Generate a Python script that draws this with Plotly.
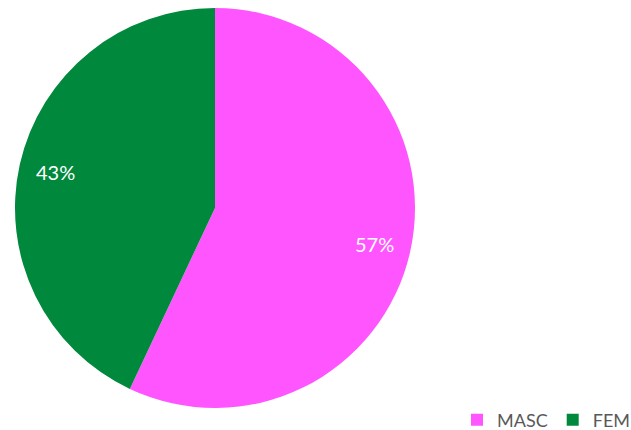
import math
import plotly.graph_objects as go

labels = ["MASC", "FEM"]
values = [57, 43]
colors = ["#FF55FF", "#00893C"]

fig = go.Figure()
fig.add_trace(go.Pie(
    labels=labels, values=values, sort=False, direction="clockwise", rotation=0,
    marker=dict(colors=colors, line=dict(width=0)),
    textinfo="none", hoverinfo="label+percent",
    domain=dict(x=[0, 1], y=[0, 1]),
))

# labels placed near the outer edge like the reference
total = sum(values)
start = 90.0
annotations = []
for v in values:
    frac = v / total
    mid = start - frac * 360 / 2
    start -= frac * 360
    a = math.radians(mid)
    r = 0.815 * 0.5
    annotations.append(dict(
        x=0.5 + r * math.cos(a), y=0.5 + r * math.sin(a), xref="paper", yref="paper",
        xanchor="center", yanchor="middle",
        text=f"{round(frac*100)}%", showarrow=False,
        font=dict(family="Lato, Open Sans, sans-serif", size=20, color="white"),
    ))

fig.update_layout(
    width=631, height=430,
    margin=dict(l=15, r=216, t=8, b=22, autoexpand=False),
    paper_bgcolor="white", plot_bgcolor="white",
    annotations=annotations,
    showlegend=True,
    legend=dict(orientation="h", x=1.105, y=-0.03, xanchor="left", yanchor="middle",
                font=dict(family="Lato, Open Sans, sans-serif", size=18, color="#595959"),
                itemsizing="constant", traceorder="normal"),
)
fig.write_html("out.html")
